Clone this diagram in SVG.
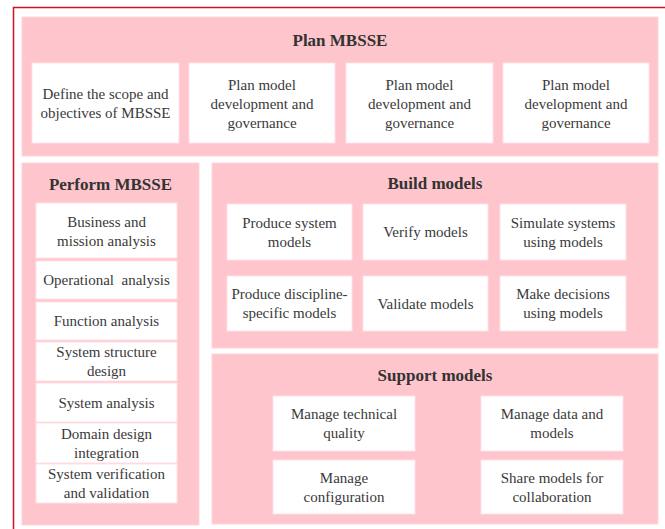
<svg xmlns="http://www.w3.org/2000/svg" width="665" height="529" viewBox="0 0 665 529">
<style>
.panel{fill:#FFC5CC;stroke:#FFD6DB;stroke-width:1}
.box{fill:#FFFFFF;stroke:#FFE2E6;stroke-width:1}
text{font-family:'Liberation Serif','Times New Roman',Times,'DejaVu Serif',serif}
.t{font-size:15px;fill:#3a3a3a;text-anchor:middle}
.h{font-size:17px;font-weight:bold;fill:#333333;text-anchor:middle}
</style>
<rect x="0" y="0" width="665" height="529" fill="#FFFFFF"/>
<path d="M13.5,529 V7.5 H665" fill="none" stroke="#D0101E" stroke-width="1.5"/>

<g id="plan">
<rect class="panel" x="22" y="17" width="636" height="139"/>
<text class="h" x="340" y="46">Plan MBSSE</text>
</g>
<g id="plan-1"><rect class="box" x="32" y="63" width="147" height="80"/>
<text class="t" x="105.5" y="99">Define the scope and</text><text class="t" x="105.5" y="118">objectives of MBSSE</text></g>
<g id="plan-2"><rect class="box" x="189" y="63" width="146" height="80"/>
<text class="t" x="262" y="89.5">Plan model</text><text class="t" x="262" y="108.5">development and</text><text class="t" x="262" y="127.5">governance</text></g>
<g id="plan-3"><rect class="box" x="346" y="63" width="147" height="80"/>
<text class="t" x="419.5" y="89.5">Plan model</text><text class="t" x="419.5" y="108.5">development and</text><text class="t" x="419.5" y="127.5">governance</text></g>
<g id="plan-4"><rect class="box" x="503" y="63" width="146" height="80"/>
<text class="t" x="576" y="89.5">Plan model</text><text class="t" x="576" y="108.5">development and</text><text class="t" x="576" y="127.5">governance</text></g>

<g id="perform">
<rect class="panel" x="22" y="163" width="177" height="362"/>
<text class="h" x="110.5" y="190">Perform MBSSE</text>
</g>
<g id="perform-1"><rect class="box" x="36" y="203" width="141" height="55"/>
<text class="t" x="106.5" y="226.5">Business and</text><text class="t" x="106.5" y="245.5">mission analysis</text></g>
<g id="perform-2"><rect class="box" x="36" y="261" width="141" height="38"/>
<text class="t" x="106.5" y="285" xml:space="preserve">Operational  analysis</text></g>
<g id="perform-3"><rect class="box" x="36" y="302" width="141" height="38"/>
<text class="t" x="106.5" y="326">Function analysis</text></g>
<g id="perform-4"><rect class="box" x="36" y="342" width="141" height="39"/>
<text class="t" x="106.5" y="357">System structure</text><text class="t" x="106.5" y="376">design</text></g>
<g id="perform-5"><rect class="box" x="36" y="383" width="141" height="39"/>
<text class="t" x="106.5" y="407.5">System analysis</text></g>
<g id="perform-6"><rect class="box" x="36" y="423" width="141" height="40"/>
<text class="t" x="106.5" y="438.5">Domain design</text><text class="t" x="106.5" y="457.5">integration</text></g>
<g id="perform-7"><rect class="box" x="36" y="464" width="141" height="39"/>
<text class="t" x="106.5" y="479">System verification</text><text class="t" x="106.5" y="498">and validation</text></g>

<g id="build">
<rect class="panel" x="212" y="163" width="446" height="185"/>
<text class="h" x="435" y="189">Build models</text>
</g>
<g id="build-1"><rect class="box" x="227" y="204" width="125" height="56"/>
<text class="t" x="289.5" y="227.5">Produce system</text><text class="t" x="289.5" y="246.5">models</text></g>
<g id="build-2"><rect class="box" x="363" y="204" width="125" height="56"/>
<text class="t" x="425.5" y="237">Verify models</text></g>
<g id="build-3"><rect class="box" x="500" y="204" width="126" height="56"/>
<text class="t" x="563" y="227.5">Simulate systems</text><text class="t" x="563" y="246.5">using models</text></g>
<g id="build-4"><rect class="box" x="227" y="276" width="125" height="55"/>
<text class="t" x="289.5" y="299">Produce discipline-</text><text class="t" x="289.5" y="318">specific models</text></g>
<g id="build-5"><rect class="box" x="363" y="276" width="125" height="55"/>
<text class="t" x="425.5" y="308.5">Validate models</text></g>
<g id="build-6"><rect class="box" x="500" y="276" width="126" height="55"/>
<text class="t" x="563" y="299">Make decisions</text><text class="t" x="563" y="318">using models</text></g>

<g id="support">
<rect class="panel" x="212" y="354" width="446" height="170"/>
<text class="h" x="435" y="381">Support models</text>
</g>
<g id="support-1"><rect class="box" x="273" y="396" width="142" height="55"/>
<text class="t" x="344" y="419">Manage technical</text><text class="t" x="344" y="438">quality</text></g>
<g id="support-2"><rect class="box" x="481" y="396" width="142" height="55"/>
<text class="t" x="552" y="419">Manage data and</text><text class="t" x="552" y="438">models</text></g>
<g id="support-3"><rect class="box" x="273" y="460" width="142" height="54"/>
<text class="t" x="344" y="482.5">Manage</text><text class="t" x="344" y="501.5">configuration</text></g>
<g id="support-4"><rect class="box" x="481" y="460" width="142" height="54"/>
<text class="t" x="552" y="482.5">Share models for</text><text class="t" x="552" y="501.5">collaboration</text></g>

<g id="connectors"></g>
</svg>
